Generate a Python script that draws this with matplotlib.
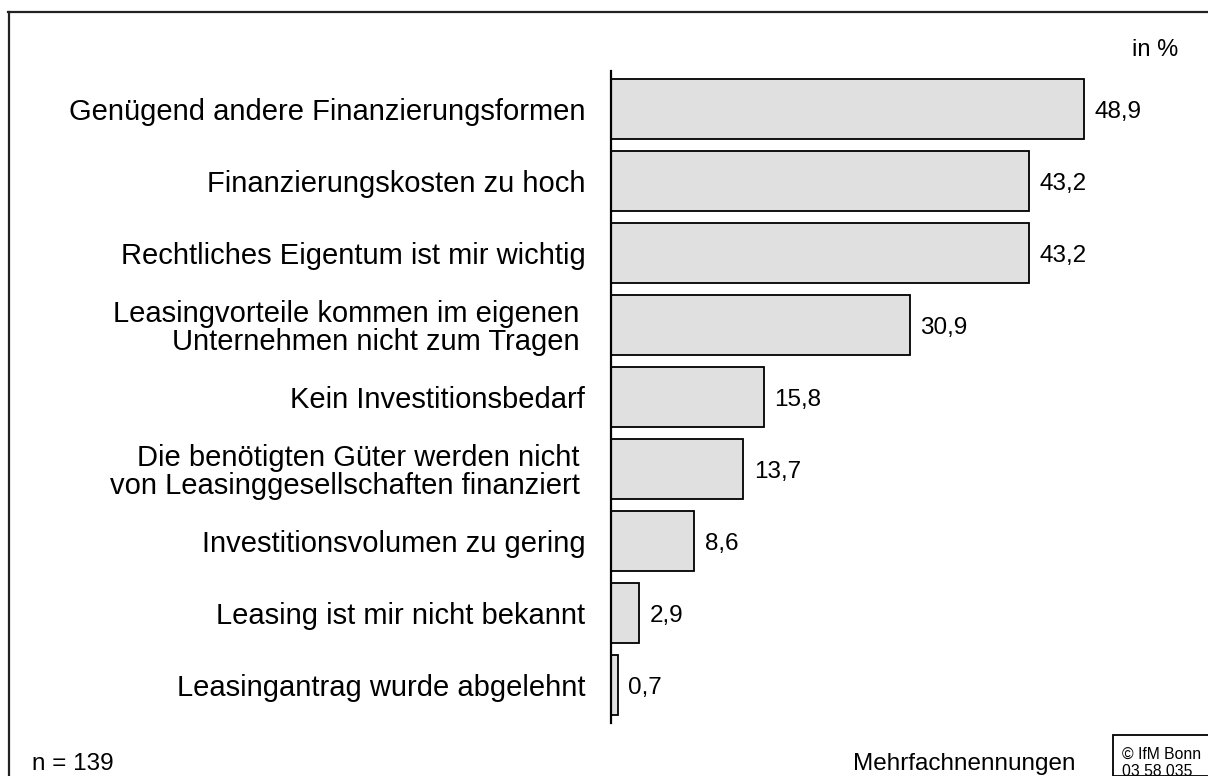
import matplotlib
matplotlib.use("Agg")
import matplotlib.pyplot as plt
from matplotlib.lines import Line2D
from matplotlib.patches import Rectangle

plt.rcParams['font.family'] = ['Liberation Sans', 'DejaVu Sans']

# Gründe gegen Leasing (Mehrfachnennungen, in %)
categories = [
    "Genügend andere Finanzierungsformen",
    "Finanzierungskosten zu hoch",
    "Rechtliches Eigentum ist mir wichtig",
    "Leasingvorteile kommen im eigenen\u2009\nUnternehmen nicht zum Tragen\u2009",
    "Kein Investitionsbedarf",
    "Die benötigten Güter werden nicht\u2009\nvon Leasinggesellschaften finanziert\u2009",
    "Investitionsvolumen zu gering",
    "Leasing ist mir nicht bekannt",
    "Leasingantrag wurde abgelehnt",
]
values = [48.9, 43.2, 43.2, 30.9, 15.8, 13.7, 8.6, 2.9, 0.7]
value_labels = ["48,9", "43,2", "43,2", "30,9", "15,8", "13,7", "8,6", "2,9", "0,7"]

W, H = 1208, 776
fig = plt.figure(figsize=(W / 100, H / 100), dpi=100)

# axes placed in pixel terms: value axis at x=611, runs from y=71 to y=723
ax_left, ax_top, ax_bottom = 611, 71, 723
ax = fig.add_axes([ax_left / W, 1 - ax_bottom / H, 1 - ax_left / W, (ax_bottom - ax_top) / H])

pos = list(range(len(categories)))
ax.barh(pos, values, height=0.82, color='#e0e0e0', edgecolor='black', linewidth=1.3)
ax.set_ylim(8.528, -0.528)
ax.set_xlim(0, (W - ax_left) / 9.67)

for p, v, lab in zip(pos, values, value_labels):
    ax.annotate(lab, (v, p), xytext=(7.5, -2.2), textcoords='offset points',
                ha='left', va='center', fontsize=17.5)

ax.set_yticks(pos)
ax.set_yticklabels(categories, fontsize=21, linespacing=1.0)
ax.tick_params(axis='y', length=0, pad=18.5)
ax.set_xticks([])
for side in ['top', 'right', 'bottom']:
    ax.spines[side].set_visible(False)
ax.spines['left'].set_linewidth(1.6)

# outer frame (top and left edges visible)
fig.add_artist(Line2D([9 / W, 9 / W], [1 - 12 / H, 0], color='#222222', lw=1.6))
fig.add_artist(Line2D([8 / W, 1], [1 - 12 / H, 1 - 12 / H], color='#222222', lw=1.6))

fig.text(1178 / W, 1 - 56 / H, "in %", ha='right', va='baseline', fontsize=17)
fig.text(32 / W, 1 - 770 / H, "n = 139", ha='left', va='baseline', fontsize=17.5)
fig.text(853 / W, 1 - 770 / H, "Mehrfachnennungen", ha='left', va='baseline', fontsize=17.5)

# source box in the lower right corner
fig.add_artist(Rectangle((1113 / W, 0), 1, 1 - 735 / H, transform=fig.transFigure,
                         facecolor='white', edgecolor='black', lw=1.3))
fig.text(1122 / W, 1 - 759 / H, "© IfM Bonn", ha='left', va='baseline', fontsize=11.3)
fig.text(1122 / W, 1 - 776 / H, "03 58 035", ha='left', va='baseline', fontsize=11.3)

fig.savefig("out.png", dpi=100)
